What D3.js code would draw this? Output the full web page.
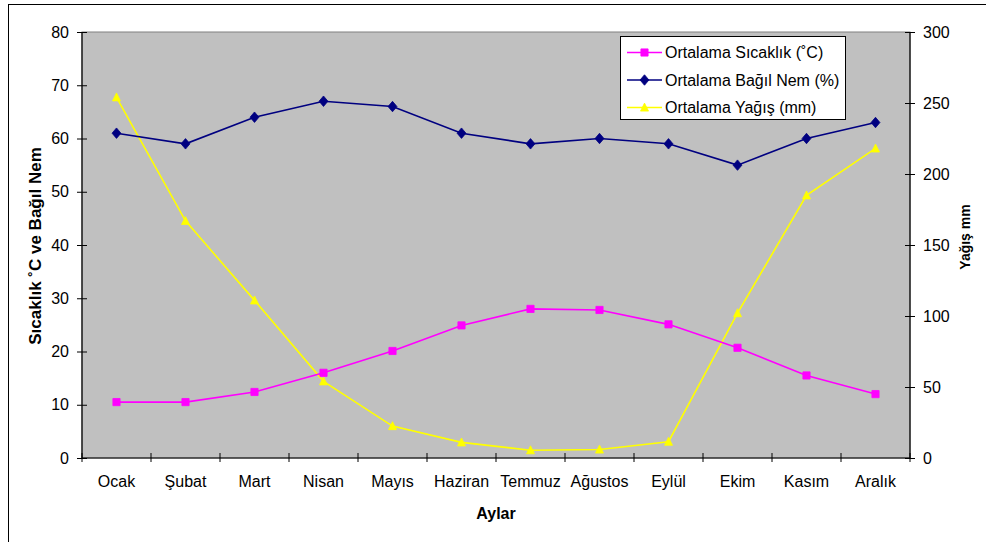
<!DOCTYPE html>
<html>
<head>
<meta charset="utf-8">
<script src="https://cdn.jsdelivr.net/npm/d3@7"></script>
<style>
  html, body { margin: 0; padding: 0; background: #fff; }
  svg text { font-family: Arial, "Liberation Sans", sans-serif; fill: #000; }
</style>
</head>
<body>
<svg id="chart" width="986" height="542"></svg>
<script>
// Monthly climate averages
const months = ["Ocak", "Şubat", "Mart", "Nisan", "Mayıs", "Haziran", "Temmuz", "Ağustos", "Eylül", "Ekim", "Kasım", "Aralık"];
const temperature = [10.5, 10.5, 12.4, 16.0, 20.1, 24.9, 28.0, 27.8, 25.1, 20.7, 15.5, 12.0];
const humidity = [61, 59, 64, 67, 66, 61, 59, 60, 59, 55, 60, 63];
const rainfall = [254, 167, 111, 54, 22.5, 11, 5.5, 6, 11.5, 102, 185, 218];
const leftTicks = [0, 10, 20, 30, 40, 50, 60, 70, 80];
const rightTicks = [0, 50, 100, 150, 200, 250, 300];
const seriesNames = ["Ortalama Sıcaklık (˚C)", "Ortalama Bağıl Nem (%)", "Ortalama Yağış (mm)"];

const svg = d3.select("#chart");
const plot = { left: 82, right: 910, top: 32, bottom: 458 };

// outer chart frame
svg.append("rect").attr("x", 8.5).attr("y", 4.5).attr("width", 1000).attr("height", 560)
  .attr("fill", "#fff").attr("stroke", "#000").attr("stroke-width", 1);

const x = d3.scaleBand().domain(months).range([plot.left, plot.right]).paddingInner(0).paddingOuter(0);
const yL = d3.scaleLinear().domain([0, 80]).range([plot.bottom, plot.top]);
const yR = d3.scaleLinear().domain([0, 300]).range([plot.bottom, plot.top]);
const cx = m => x(m) + x.bandwidth() / 2;

// plot background
svg.append("rect").attr("x", plot.left).attr("y", plot.top)
  .attr("width", plot.right - plot.left).attr("height", plot.bottom - plot.top)
  .attr("fill", "#c0c0c0").attr("stroke", "#808080").attr("stroke-width", 1);

// left axis
const axL = svg.append("g").attr("transform", `translate(${plot.left},0)`)
  .call(d3.axisLeft(yL).tickValues(leftTicks).tickSize(5).tickPadding(8));
// right axis
const axR = svg.append("g").attr("transform", `translate(${plot.right},0)`)
  .call(d3.axisRight(yR).tickValues(rightTicks).tickSize(5).tickPadding(8));
// bottom axis: ticks on category boundaries
const axB = svg.append("g").attr("transform", `translate(0,${plot.bottom})`)
  .call(d3.axisBottom(x).tickSize(0).tickPadding(18));
const boundaries = d3.range(months.length + 1).map(i => plot.left + i * x.bandwidth());
axB.selectAll(".bnd").data(boundaries).join("line").attr("class", "bnd")
  .attr("x1", d => d).attr("x2", d => d).attr("y1", -5).attr("y2", 4)
  .attr("stroke", "#000");

[axL, axR, axB].forEach(a => {
  a.select(".domain").attr("stroke", "#000").attr("stroke-width", 1.2);
  a.selectAll("text").attr("font-size", 16).attr("font-family", "Arial, 'Liberation Sans', sans-serif");
  a.selectAll(".tick line").attr("stroke", "#000");
});
axL.select(".domain").attr("d", `M0,${plot.top}V${plot.bottom}`);
axR.select(".domain").attr("d", `M0,${plot.top}V${plot.bottom}`);
axB.select(".domain").attr("d", `M${plot.left},0H${plot.right}`);
// ticks cross the axis line
axL.selectAll(".tick line").attr("x1", 5).attr("x2", -5);
axR.selectAll(".tick line").attr("x1", -5).attr("x2", 5);

// series lines
const lineL = d3.line().x((d, i) => cx(months[i])).y(d => yL(d));
const lineR = d3.line().x((d, i) => cx(months[i])).y(d => yR(d));

function drawSeries(values, line, yScale, color, symbol, size) {
  svg.append("path").datum(values).attr("d", line)
    .attr("fill", "none").attr("stroke", color).attr("stroke-width", 1.6);
  svg.append("g").selectAll("path").data(values).join("path")
    .attr("transform", (d, i) => `translate(${cx(months[i])},${yScale(d)})`)
    .attr("d", d3.symbol().type(symbol).size(size))
    .attr("fill", color).attr("stroke", color).attr("stroke-width", 0.8);
}
const diamond = { draw(ctx, size) { const r = Math.sqrt(size) / 1.6; ctx.moveTo(0, -r); ctx.lineTo(r * 0.85, 0); ctx.lineTo(0, r); ctx.lineTo(-r * 0.85, 0); ctx.closePath(); } };
const triangle = { draw(ctx, size) { const r = Math.sqrt(size) / 2; ctx.moveTo(0, -r * 1.1); ctx.lineTo(r, r * 0.9); ctx.lineTo(-r, r * 0.9); ctx.closePath(); } };

drawSeries(rainfall, lineR, yR, "#ffff00", triangle, 64);
drawSeries(temperature, lineL, yL, "#ff00ff", d3.symbolSquare, 52);
drawSeries(humidity, lineL, yL, "#000080", diamond, 70);

// axis titles
svg.append("text").attr("transform", `translate(41,246) rotate(-90)`)
  .attr("text-anchor", "middle").attr("font-size", 17).attr("font-weight", "bold")
  .text("Sıcaklık ˚C ve Bağıl Nem");
svg.append("text").attr("transform", `translate(970,237) rotate(-90)`)
  .attr("text-anchor", "middle").attr("font-size", 14).attr("font-weight", "bold")
  .text("Yağış mm");
svg.append("text").attr("x", (plot.left + plot.right) / 2).attr("y", 519)
  .attr("text-anchor", "middle").attr("font-size", 16).attr("font-weight", "bold")
  .text("Aylar");

// legend
const legend = svg.append("g");
legend.append("rect").attr("x", 620.5).attr("y", 36.5).attr("width", 225).attr("height", 83)
  .attr("fill", "#fff").attr("stroke", "#000").attr("stroke-width", 1);
const legendItems = [
  { name: seriesNames[0], color: "#ff00ff", symbol: d3.symbolSquare, size: 52 },
  { name: seriesNames[1], color: "#000080", symbol: diamond, size: 70 },
  { name: seriesNames[2], color: "#ffff00", symbol: triangle, size: 64 }
];
legendItems.forEach((it, i) => {
  const yy = 52.5 + i * 27.5;
  legend.append("line").attr("x1", 627).attr("x2", 662).attr("y1", yy).attr("y2", yy)
    .attr("stroke", it.color).attr("stroke-width", 1.6);
  legend.append("path").attr("transform", `translate(644.5,${yy})`)
    .attr("d", d3.symbol().type(it.symbol).size(it.size))
    .attr("fill", it.color).attr("stroke", it.color).attr("stroke-width", 0.8);
  legend.append("text").attr("x", 665).attr("y", yy + 5.5).attr("font-size", 16).text(it.name);
});
</script>
</body>
</html>
